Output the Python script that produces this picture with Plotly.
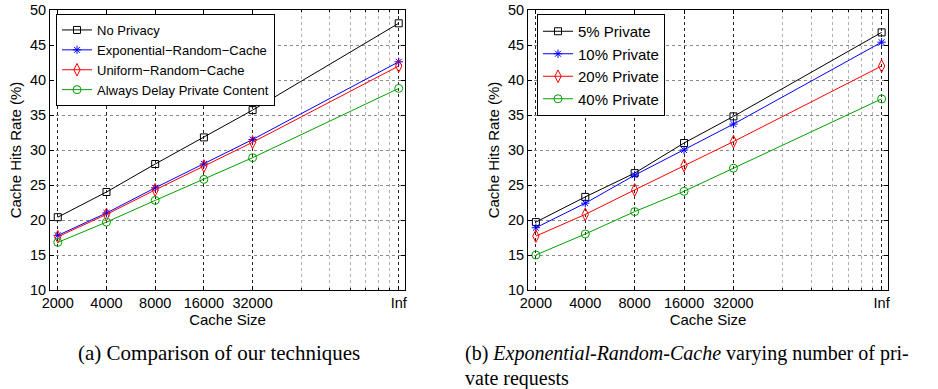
import plotly.graph_objects as go

# ---------------- data ----------------
size_labels = ["2000", "4000", "8000", "16000", "32000", "Inf"]
cache_size = [2000, 4000, 8000, 16000, 32000, 256000]  # "Inf" drawn at the far right of the log axis

# (a) Comparison of our techniques
no_privacy = [20.4, 24.0, 28.0, 31.8, 35.7, 48.1]
exp_random_cache = [17.8, 21.0, 24.6, 28.0, 31.5, 42.6]
uniform_random_cache = [17.6, 20.8, 24.3, 27.7, 31.1, 42.0]
always_delay = [16.8, 19.7, 22.8, 25.8, 28.9, 38.8]

# (b) Exponential-Random-Cache varying number of private requests
private_5 = [19.7, 23.3, 26.7, 31.0, 34.8, 46.8]
private_10 = [18.9, 22.4, 26.4, 30.0, 33.7, 45.4]
private_20 = [17.7, 20.8, 24.3, 27.8, 31.2, 42.0]
private_40 = [15.0, 18.0, 21.2, 24.1, 27.4, 37.3]

minor_grid = [64000, 96000, 128000, 160000, 192000, 224000, 256000]

W, H = 938, 389
SANS = "Liberation Sans, Arial, sans-serif"
SERIF = "Liberation Serif, Times New Roman, serif"

BLACK = "#000000"
BLUE = "#0000ff"
RED = "#ff0000"
GREEN = "#00a000"

fig = go.Figure()


def add(y, name, color, symbol, msize, xa, ya, legend):
    fig.add_trace(go.Scatter(
        x=cache_size, y=y, name=name, mode="lines+markers",
        line=dict(color=color, width=1),
        marker=dict(symbol=symbol, size=msize, color=color,
                    line=dict(color=color, width=1)),
        xaxis=xa, yaxis=ya, legend=legend,
    ))


add(no_privacy, "No Privacy", BLACK, "square-open", 7, "x", "y", "legend")
add(exp_random_cache, "Exponential\u2212Random\u2212Cache", BLUE, "asterisk-open", 7, "x", "y", "legend")
add(uniform_random_cache, "Uniform\u2212Random\u2212Cache", RED, "diamond-tall-open", 9, "x", "y", "legend")
add(always_delay, "Always Delay Private Content", GREEN, "circle-open", 8, "x", "y", "legend")

add(private_5, "5% Private", BLACK, "square-open", 7, "x2", "y2", "legend2")
add(private_10, "10% Private", BLUE, "asterisk-open", 7, "x2", "y2", "legend2")
add(private_20, "20% Private", RED, "diamond-tall-open", 9, "x2", "y2", "legend2")
add(private_40, "40% Private", GREEN, "circle-open", 8, "x2", "y2", "legend2")


def px_x(p):
    return p / W


def px_y(p):
    return 1 - p / H


xaxis_common = dict(
    type="log",
    range=[3.253, 5.447],
    automargin=False,
    tickmode="array", tickvals=cache_size, ticktext=size_labels,
    ticks="inside", ticklen=4, tickcolor=BLACK,
    showline=True, linecolor=BLACK, linewidth=1, mirror="ticks",
    showgrid=True, gridcolor="#222222", griddash="dot", gridwidth=1,
    zeroline=False,
    tickfont=dict(family=SANS, size=14.5, color=BLACK),
    title=dict(text="Cache Size", font=dict(family=SANS, size=15, color=BLACK), standoff=2),
    minor=dict(tickmode="array", tickvals=minor_grid, showgrid=True,
               gridcolor="#b0b0b0", griddash="dot", gridwidth=1,
               ticks="inside", ticklen=2, tickcolor=BLACK),
)
yaxis_common = dict(
    range=[10, 50], tickmode="linear", tick0=10, dtick=5,
    automargin=False, ticklabeloverflow="allow",
    ticks="inside", ticklen=4, tickcolor=BLACK,
    showline=True, linecolor=BLACK, linewidth=1, mirror="ticks",
    showgrid=True, gridcolor="#8a8a8a", griddash="dot", gridwidth=1,
    zeroline=False,
    tickfont=dict(family=SANS, size=14.5, color=BLACK),
    title=dict(text="Cache Hits Rate (%)", font=dict(family=SANS, size=15, color=BLACK), standoff=4),
)

legend_common = dict(
    xanchor="left", yanchor="top",
    bgcolor="white", bordercolor=BLACK, borderwidth=1,
    tracegroupgap=0, itemwidth=30,
)

fig.update_layout(
    template="none",
    width=W, height=H,
    margin=dict(l=0, r=0, t=0, b=0, autoexpand=False),
    paper_bgcolor="white", plot_bgcolor="white",
    xaxis=dict(domain=[px_x(50), px_x(405)], anchor="y", **xaxis_common),
    yaxis=dict(domain=[px_y(290), px_y(10)], anchor="x", **yaxis_common),
    xaxis2=dict(domain=[px_x(528), px_x(888)], anchor="y2", **xaxis_common),
    yaxis2=dict(domain=[px_y(290), px_y(10)], anchor="x2", **yaxis_common),
    legend=dict(x=px_x(56), y=px_y(14),
                font=dict(family=SANS, size=13, color=BLACK), **legend_common),
    legend2=dict(x=px_x(537), y=px_y(14),
                 font=dict(family=SANS, size=15, color=BLACK), **legend_common),
    showlegend=True,
    hovermode=False,
)

fig.add_annotation(
    text="(a) Comparison of our techniques",
    xref="paper", yref="paper", x=px_x(219), y=px_y(353),
    xanchor="center", yanchor="middle", showarrow=False,
    font=dict(family=SERIF, size=21, color=BLACK),
)
fig.add_annotation(
    text="(b) <i>Exponential-Random-Cache</i> varying number of pri-",
    xref="paper", yref="paper", x=px_x(463), y=px_y(353),
    xanchor="left", yanchor="middle", showarrow=False,
    font=dict(family=SERIF, size=20, color=BLACK),
)
fig.add_annotation(
    text="vate requests",
    xref="paper", yref="paper", x=px_x(463), y=px_y(378),
    xanchor="left", yanchor="middle", showarrow=False,
    font=dict(family=SERIF, size=20, color=BLACK),
)

# remove the default 8px page margin so the figure fills the window exactly
fig.write_html("out.html", config={"displayModeBar": False},
               post_script="document.body.style.margin='0px';")
